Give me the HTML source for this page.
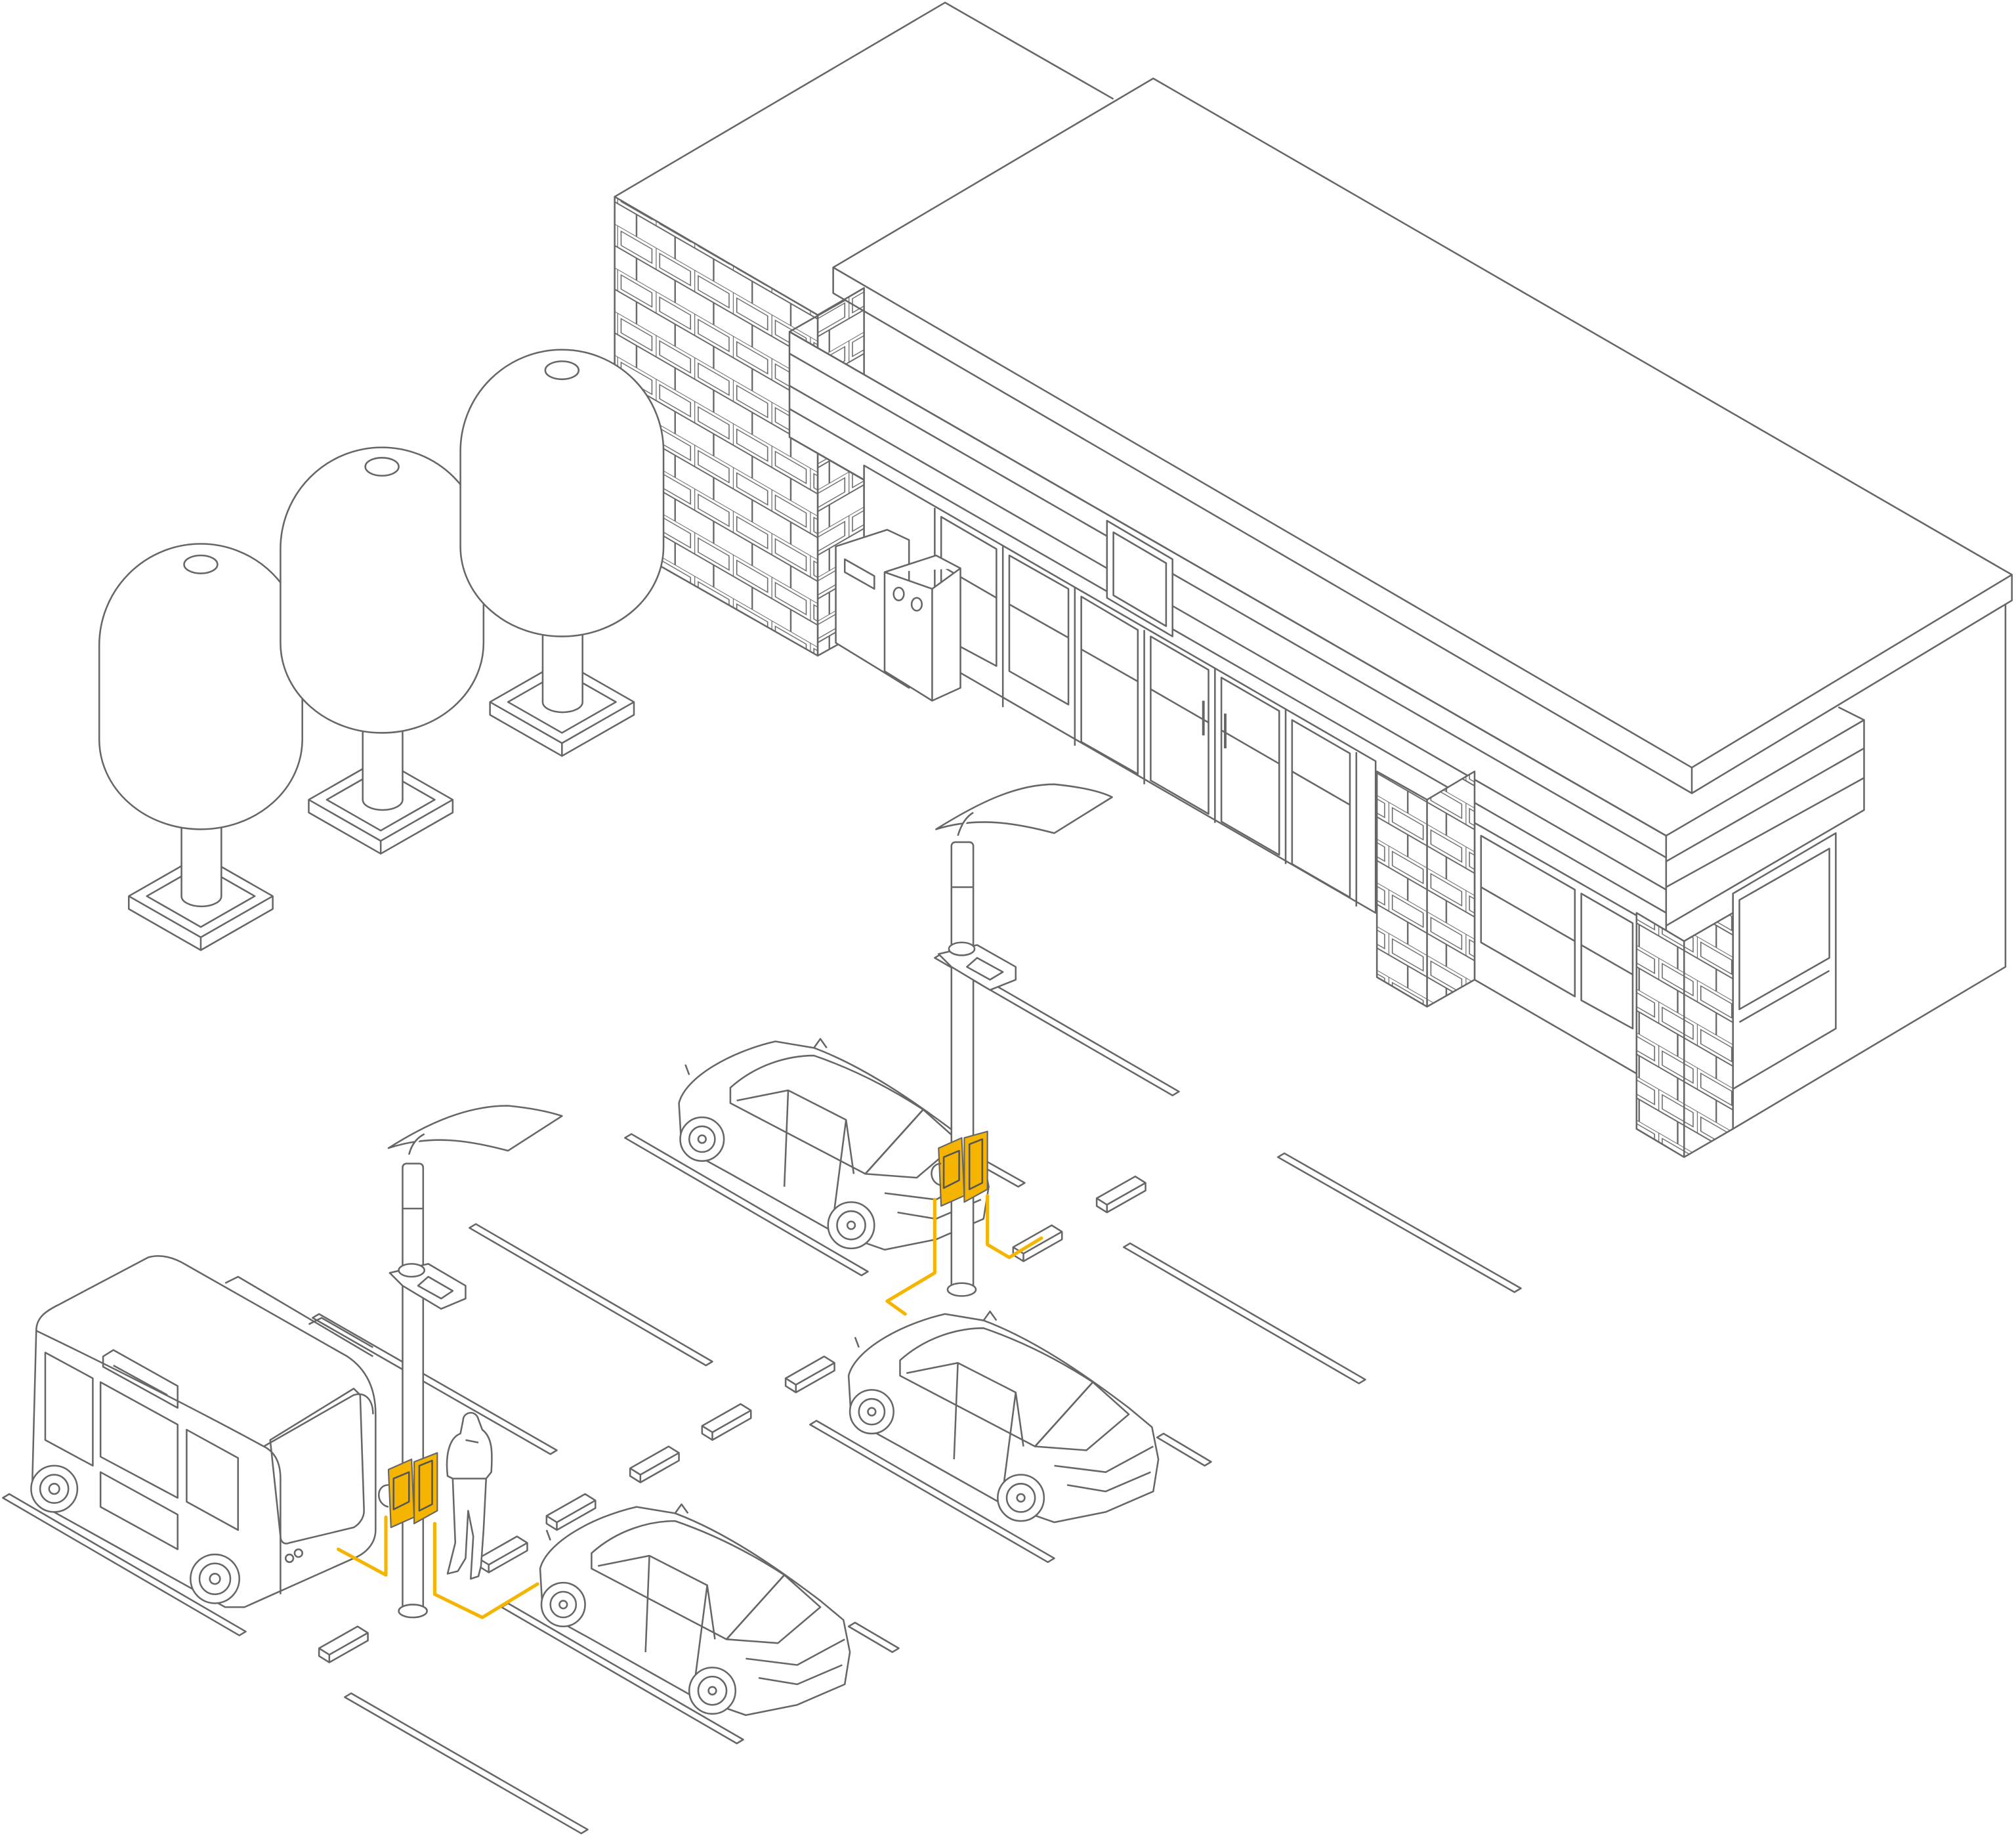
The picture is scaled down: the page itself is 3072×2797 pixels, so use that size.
<!DOCTYPE html>
<html><head><meta charset="utf-8"><style>
html,body{margin:0;padding:0;background:#fff;}
svg{display:block;}
</style></head><body>
<svg width="3072" height="2797" viewBox="0 0 1568 1428" xmlns="http://www.w3.org/2000/svg">
<defs>
<pattern id="brick" width="30" height="34" patternUnits="userSpaceOnUse" patternTransform="skewY(30)">
<rect width="30" height="34" fill="#fff"/>
<path d="M0 0H30M0 17H30M0 0V17M15 17V34" stroke="#666" stroke-width="1.2" fill="none"/>
<rect x="3" y="3" width="24" height="11" fill="none" stroke="#666" stroke-width="0.8"/>
</pattern>
<pattern id="brick2" width="30" height="34" patternUnits="userSpaceOnUse" patternTransform="skewY(-30)">
<rect width="30" height="34" fill="#fff"/>
<path d="M0 0H30M0 17H30M0 0V17M15 17V34" stroke="#666" stroke-width="1.2" fill="none"/>
<rect x="3" y="3" width="24" height="11" fill="none" stroke="#666" stroke-width="0.8"/>
</pattern>
<g id="car">
<path d="M660,1070 C665,1050 700,1030 735,1022 L765,1027 C805,1042 845,1070 878,1095 L896,1110 L901,1135 L897,1160 L860,1176 L820,1184 L780,1170 L700,1125 L662,1104 Z" fill="#fff"/>
<path d="M700,1058 C720,1040 745,1033 765,1033 C800,1045 830,1062 850,1075 L805,1125 L700,1070 Z" fill="#fff"/>
<path d="M705,1068 L745,1060 L790,1083 L796,1125 M745,1060 L742,1135 M790,1083 L780,1160 M805,1125 L850,1075 L878,1100 L845,1128 Z M820,1140 L860,1145 L897,1125 M830,1155 L860,1160 L895,1145 M765,1027 L770,1020 L775,1027 M665,1040 L668,1048"/>
<circle cx="678" cy="1098" r="17" fill="#fff"/><circle cx="678" cy="1098" r="10"/><circle cx="678" cy="1098" r="3"/>
<circle cx="794" cy="1165" r="18" fill="#fff"/><circle cx="794" cy="1165" r="11"/><circle cx="794" cy="1165" r="3"/>
</g>
<g id="stop"><path d="M0,12 L30,-5 L38,0 L38,6 L8,23 L0,18 Z M0,12 L8,17 L38,0 M8,17 L8,23" fill="#fff"/></g>
</defs>
<g fill="none" stroke="#666" stroke-width="1.3" stroke-linejoin="round">
<g fill="#fff">
<path d="M994,900 L999,897 L1183,1002 L1178,1005 Z"/>
<path d="M874,970 L879,967 L1062,1073 L1057,1076 Z"/>
<path d="M486,885 L491,882 L675,989 L670,992 Z"/>
<path d="M727,745 L732,742 L917,849 L912,852 Z"/>
<path d="M365,955 L370,952 L554,1059 L549,1062 Z"/>
<path d="M630,1108 L635,1105 L820,1212 L815,1215 Z"/>
<path d="M243,1025 L248,1022 L433,1128 L428,1131 Z"/>
<path d="M2,1165 L7,1162 L191,1269 L186,1272 Z"/>
<path d="M390,1250 L395,1247 L578,1353 L573,1356 Z"/>
<path d="M268,1320 L273,1317 L457,1423 L452,1426 Z"/>
<path d="M900,1118 L905,1115 L942,1137 L937,1140 Z"/>
<path d="M660,1265 L665,1262 L699,1282 L694,1285 Z"/>
<path d="M760,905 L765,902 L797,920 L792,923 Z"/>
</g>
<path d="M478,153 L735,2 L866,77" />
<path d="M478,153 L636,245 L636,510 L478,420 Z" fill="url(#brick)"/>
<path d="M636,245 L672,224 L672,490 L636,510 Z" fill="url(#brick2)"/>
<path d="M614,258 L658,233 M1296,650 L614,258 L614,340 L1296,730" fill="#fff"/>
<path d="M1560,470 L1560,752 L1348,878 L1348,700" fill="#fff"/>
<path d="M614,258 L1296,650 M614,275 L1296,667 M614,300 L1296,692 M614,318 L1296,710 M614,340 L1296,732 M1296,650 L1450,560 L1450,630 L1296,720 M1296,670 L1450,582 M1296,690 L1450,605"/>
<path d="M1296,650 L1296,730 M1450,560 L1430,550"/>
<path d="M648,208 L897,61 L1565,447 L1316,597 Z" fill="#fff"/>
<path d="M648,208 L648,228 L1316,617 L1565,467 L1565,447 M1316,597 L1316,617"/>
<path d="M672,362 L1070,592 L1070,710 L672,480 Z" fill="#fff"/>
<path d="M727,395 L727,520 M780,425 L780,550 M836,457 L836,580 M890,490 L890,610 M945,520 L945,640 M1000,552 L1000,672 M1055,585 L1055,705"/>
<path d="M732,402 L775,427 L775,518 L732,495 Z M785,432 L831,458 L831,548 L785,522 Z M841,464 L885,490 L885,602 L841,577 Z M895,495 L940,521 L940,633 L895,607 Z M950,527 L995,553 L995,665 L950,639 Z M1005,560 L1050,586 L1050,698 L1005,672 Z"/>
<path d="M732,440 L775,465 M785,470 L831,496 M841,505 L885,530 M895,536 L940,562 M950,568 L995,594 M1005,600 L1050,626"/>
<path d="M936,545 L936,572 M953,555 L953,582" stroke-width="2"/>
<path d="M861,405 L912,435 L912,495 L861,465 Z M866,414 L907,438 L907,487 L866,463 Z" fill="#fff"/>
<path d="M1147,640 L1273,712 L1273,835 L1147,762 Z" fill="#fff"/>
<path d="M1152,650 L1225,692 L1225,775 L1152,733 Z M1230,695 L1270,718 L1270,800 L1230,778 Z M1152,690 L1225,732 M1230,735 L1270,758"/>
<path d="M1348,695 L1428,648 L1428,800 L1348,847 Z M1353,700 L1423,660 L1423,745 L1353,785 Z M1353,795 L1423,755"/>
<path d="M1071,600 L1110,622 L1147,600 L1147,762 L1110,783 L1071,760 Z" fill="url(#brick)"/>
<path d="M1110,622 L1110,783"/>
<path d="M1273,710 L1310,732 L1348,710 L1348,878 L1310,900 L1273,878 Z" fill="url(#brick)"/>
<path d="M1310,732 L1310,900"/>
<path d="M650,425 L690,412 L707,420 L707,535 L686,522 L650,500 Z" fill="#fff"/>
<path d="M657,435 L680,448 L680,458 L657,445 Z"/>
<path d="M688,445 L728,432 L747,442 L747,535 L725,545 L688,522 Z M725,458 L725,545 M688,445 L725,458 L747,442" fill="#fff"/>
<ellipse cx="699" cy="462" rx="4" ry="5"/><ellipse cx="713" cy="470" rx="4" ry="5"/>
<g fill="#fff">
<path d="M100,697 L156,665 L212,697 L212,707 L156,739 L100,707 Z M100,697 L156,729 L212,697 M156,729 L156,739 M114,697 L156,673 L198,697 L156,721 Z"/>
<path d="M141,640 L141,697 A15.5,8 0 0 0 172,697 L172,640"/>
<path d="M77,502 A79,79 0 0 1 235,502 L235,575 A79,70 0 0 1 77,575 Z"/>
<ellipse cx="156" cy="439" rx="13" ry="7"/>
<path d="M240,622 L296,590 L352,622 L352,632 L296,664 L240,632 Z M240,622 L296,654 L352,622 M296,654 L296,664 M254,622 L296,598 L338,622 L296,646 Z"/>
<path d="M282,565 L282,622 A15.5,8 0 0 0 313,622 L313,565"/>
<path d="M218,427 A79,79 0 0 1 376,427 L376,500 A79,70 0 0 1 218,500 Z"/>
<ellipse cx="297" cy="363" rx="13" ry="7"/>
<path d="M381,546 L437,514 L493,546 L493,556 L437,588 L381,556 Z M381,546 L437,578 L493,546 M437,578 L437,588 M395,546 L437,522 L479,546 L437,570 Z"/>
<path d="M422,490 L422,546 A15.5,8 0 0 0 453,546 L453,490"/>
<path d="M358,351 A79,79 0 0 1 516,351 L516,425 A79,70 0 0 1 358,425 Z"/>
<ellipse cx="437" cy="288" rx="13" ry="7"/>
</g>
<use href="#stop" transform="translate(853,920)"/>
<use href="#stop" transform="translate(788,958)"/>
<use href="#stop" transform="translate(611,1060)"/>
<use href="#stop" transform="translate(546,1097)"/>
<use href="#stop" transform="translate(490,1130)"/>
<use href="#stop" transform="translate(425,1167)"/>
<use href="#stop" transform="translate(248,1270)"/>
<use href="#stop" transform="translate(372,1200)"/>
<use href="#car" transform="translate(-132,-212)"/>
<g fill="#fff">
<path d="M728,645 C760,625 790,610 820,610 C840,612 855,615 865,620 L820,648 C790,640 760,635 728,645 Z"/>
<path d="M745,650 C748,640 752,635 757,632"/>
<rect x="740" y="655" width="17" height="350" rx="3"/>
<path d="M740,690 L757,690"/>
<path d="M730,742 L760,735 L790,752 L790,762 L770,770 L740,752 Z M760,745 L780,756 L770,762 L752,752 Z"/>
<ellipse cx="748" cy="738" rx="10" ry="5"/>
<ellipse cx="748" cy="1003" rx="11" ry="5"/>
</g>
<use href="#car"/>
<g fill="#f5b400" stroke="#666" stroke-width="1.1">
<path d="M730,893 L748,885 L750,930 L732,938 Z"/><path d="M750,885 L768,880 L768,925 L750,935 Z"/>
</g>
<path d="M734,900 L746,895 L746,918 L734,924 Z M754,890 L764,886 L764,920 L754,925 Z" stroke="#555"/>
<path d="M732,905 C722,905 722,920 732,922"/>
<path d="M28,1035 C28,1025 35,1020 45,1015 L115,978 C125,975 135,978 145,984 L270,1055 C285,1065 292,1080 292,1100 L292,1190 C292,1200 285,1208 275,1212 L190,1250 L175,1250 L40,1175 C30,1170 25,1160 25,1150 Z" fill="#fff"/>
<path d="M175,998 L185,993 L290,1055 M240,1030 L250,1025 L290,1048"/>
<path d="M28,1035 C80,1060 150,1095 205,1125 C215,1130 218,1140 218,1150 L218,1240 M205,1125 L275,1085 C285,1082 290,1090 290,1100"/>
<path d="M210,1120 L275,1080 L280,1085 L283,1175 C283,1180 280,1185 275,1188 L225,1200 C220,1202 218,1198 218,1195 Z"/>
<path d="M35,1052 L72,1072 L72,1140 L35,1120 Z M78,1075 L138,1108 L138,1165 L78,1133 Z M145,1112 L185,1134 L185,1190 L145,1168 Z M78,1145 L138,1178 L138,1205 L78,1172 Z M80,1055 L88,1050 L138,1078 L138,1095 L80,1063 Z M88,1062 L130,1085"/>
<circle cx="42" cy="1158" r="18" fill="#fff"/><circle cx="42" cy="1158" r="11"/><circle cx="42" cy="1158" r="4"/>
<circle cx="167" cy="1228" r="19" fill="#fff"/><circle cx="167" cy="1228" r="12"/><circle cx="167" cy="1228" r="4"/>
<circle cx="225" cy="1212" r="3"/><circle cx="232" cy="1208" r="3"/>
<g fill="#fff">
<path d="M302,893 C335,872 365,860 395,860 C415,862 428,865 437,868 L395,895 C365,887 335,882 302,893 Z"/>
<path d="M318,898 C320,890 324,885 330,882"/>
<rect x="313" y="905" width="16" height="350" rx="3"/>
<path d="M313,940 L329,940"/>
<path d="M303,990 L333,983 L362,1000 L362,1010 L343,1018 L313,1000 Z M333,993 L352,1004 L343,1010 L325,1000 Z"/>
<ellipse cx="320" cy="988" rx="10" ry="5"/>
<ellipse cx="321" cy="1253" rx="11" ry="5"/>
</g>
<g fill="#f5b400" stroke="#666" stroke-width="1.1">
<path d="M302,1143 L320,1135 L322,1180 L304,1188 Z"/><path d="M322,1137 L340,1130 L340,1175 L322,1185 Z"/>
</g>
<path d="M306,1150 L318,1145 L318,1168 L306,1174 Z M326,1140 L336,1136 L336,1170 L326,1175 Z" stroke="#555"/>
<path d="M302,1155 C292,1155 292,1170 302,1172"/>
<path d="M360,1105 C360,1098 370,1096 372,1104 L375,1112 C383,1118 383,1130 382,1145 L378,1150 L376,1190 L374,1218 L372,1226 L366,1228 L368,1195 L364,1175 L362,1212 L356,1222 L348,1224 L354,1200 L352,1150 L348,1148 C346,1130 350,1118 358,1115 Z" fill="#fff"/>
<path d="M352,1150 L378,1150 M362,1120 L372,1122"/>
<use href="#car" transform="translate(-240,150)"/>
</g>
<g fill="none" stroke="#f5b400" stroke-width="2.6" stroke-linejoin="round" stroke-linecap="round">
<path d="M727,933 L727,990 L690,1012 L704,1022"/>
<path d="M768,930 L768,968 L785,978 L810,963"/>
<path d="M300,1180 L300,1225 L263,1205"/>
<path d="M338,1185 L338,1240 L375,1258 L418,1232"/>
</g>
</svg>
</body></html>
